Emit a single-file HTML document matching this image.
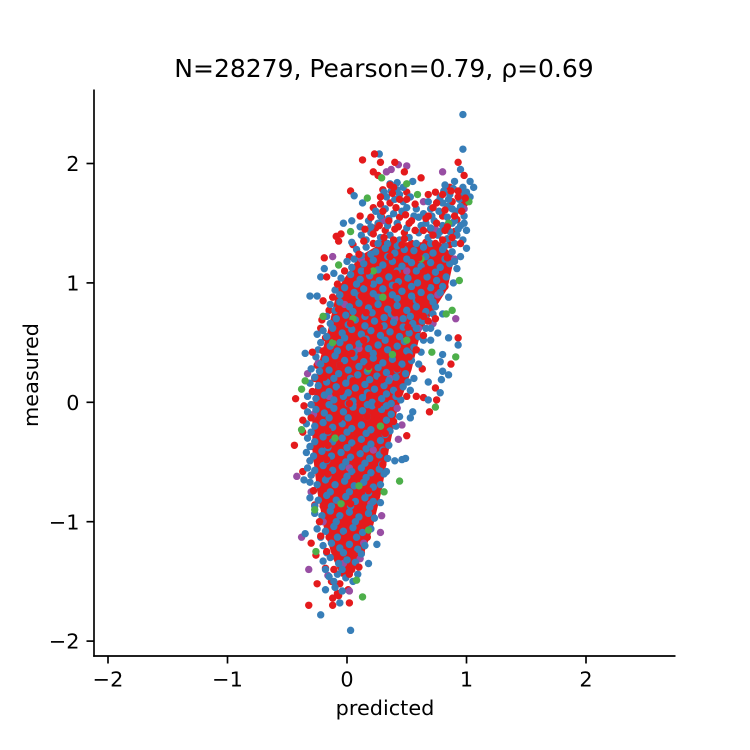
<!DOCTYPE html>
<html>
<head>
<meta charset="utf-8">
<style>
html,body{margin:0;padding:0;background:#fff}
svg{display:block}
text{font-family:"DejaVu Sans",sans-serif;fill:#000}
</style>
</head>
<body>
<svg id="chart" xmlns="http://www.w3.org/2000/svg" width="750" height="750" viewBox="0 0 750 750">
<rect width="750" height="750" fill="#fff"/>
<text x="384" y="77" font-size="25" text-anchor="middle">N=28279, Pearson=0.79, ρ=0.69</text>
<text x="385" y="715" font-size="20.8" text-anchor="middle">predicted</text>
<text x="38" y="375" font-size="20.8" text-anchor="middle" transform="rotate(-90 38 375)">measured</text>
<g id="band"></g>
<g id="points"></g>
<g id="axes"></g>
</svg>
<script>
const xTicks=[-2,-1,0,1,2];
const yTicks=[-2,-1,0,1,2];
const groupNames=['purple','green','blue','red'];
const groupColors=['#984ea3','#4daf4a','#377eb8','#e41a1c'];

/* dense overplotted core: measured level with predicted lower and upper edges */
const bandMeasured=[1.34,1.22,0.95,0.6,0.27,-0.07,-0.4,-0.74,-1.07,-1.3,-1.46];
const bandLow=[0.3,0.1,-0.08,-0.16,-0.25,-0.29,-0.29,-0.25,-0.19,-0.12,-0.05];
const bandHigh=[0.78,0.9,0.84,0.62,0.54,0.42,0.35,0.29,0.21,0.13,0.03];

const purple=[[.43,1.99],[.5,1.98],[.37,1.95],[.33,1.93],[.8,1.93],[-.12,1.22],[.64,1.68],[.91,.7],[-.33,.24],[-.42,-.62],[.43,-.31],[.46,-.19],[-.32,-1.4],[-.38,-1.13],[.28,-1.09],[.29,-.95],[.11,-1.31],[.02,-1.58],
[.98,1.62],[.74,1.45],[.3,1.52],[.12,1.2],[.5,1.1],[-.02,.82],[.4,.7],[.76,.9],[-.24,.33],[.1,.45],[.36,.2],[-.28,-.1],[.05,-.02],[.22,-.4],[-.3,-.75],[.02,-.55],[.2,-.85],[-.2,-1.0],[.14,-1.18],[-.16,-1.45],[-.03,-1.35],[.6,.62],[.9,1.2],[.72,.66],[-.15,.05],[.42,-.05]];
const green=[[.17,1.71],[.03,1.43],[.59,1.74],[.5,1.83],[.29,1.88],[-.07,1.15],[.71,.42],[.91,.38],[.74,-.04],[-.38,.11],[-.35,.18],[.44,-.66],[.31,-.75],[-.38,-.23],[.83,.74],[.88,.77],[.13,-1.63],[.08,-1.49],[.18,-1.07],
[.62,1.2],[.22,1.1],[.85,1.5],[1.02,1.68],[.3,.88],[.05,.7],[-.2,.72],[.5,.52],[.18,.28],[-.12,.5],[-.1,-.3],[.28,-.2],[-.05,-.85],[-.26,-1.25],[-.27,-.9],[.1,-.7],[.38,.4],[.94,1.02]];
const blue=[[.97,2.41],[.97,2.12],[.27,2.08],[.95,1.95],[.55,1.85],[.06,1.73],[.13,1.67],[-.03,1.5],[.04,1.52],[.11,1.47],[1.06,1.8],[1.03,1.85],[1.0,1.29],[.04,1.34],[-.19,1.12],[-.22,1.05],[-.11,1.08],[-.31,.89],[-.25,.89],[-.35,.41],[-.25,.57],[.64,.52],[.85,.54],[.93,.48],[.85,.23],[.8,.26],[.79,.19],[.68,.17],[.78,.08],[.68,.02],[.55,-.08],[.53,-.13],[.4,-.49],[.49,-.47],[.46,-.48],[.28,-.84],[.33,-.58],[-.36,-.65],[.03,-1.91],[-.22,-1.78],[-.06,-1.68],[.18,-1.35],[.25,-1.19],[.09,-1.44],[-.18,-1.57],[-.35,-1.1],
[.36,1.83],[.42,1.78],[.47,1.8],[.82,1.82],[.9,1.85],[.97,1.8],[1.0,1.76],[.78,1.72],[.86,1.74],[.94,1.7],[1.03,1.72],[.33,1.72],[.4,1.7],[.47,1.68],[.53,1.72],
[.24,1.6],[.32,1.62],[.39,1.58],[.46,1.6],[.7,1.62],[.77,1.6],[.84,1.64],[.91,1.6],[.98,1.56],[.64,1.58],[.56,1.56],[.18,1.52],[.26,1.5],[.34,1.48],[.42,1.5],[.5,1.46],[.66,1.5],[.73,1.52],[.8,1.48],[.88,1.5],[.95,1.48],[1.0,1.44],
[.12,1.4],[.2,1.42],[.28,1.38],[.36,1.4],[.44,1.36],[.52,1.38],[.6,1.42],[.68,1.38],[.76,1.4],[.84,1.37],[.92,1.4],[.97,1.36],[.08,1.28],[.16,1.3],[.24,1.26],[.32,1.29],[.4,1.25],[.48,1.28],[.56,1.27],[.64,1.3],[.72,1.25],[.8,1.28],[.88,1.26],[.95,1.22],
[.0,1.18],[.06,1.2],[.14,1.16],[.22,1.19],[.3,1.15],[.38,1.18],[.46,1.14],[.54,1.17],[.62,1.14],[.7,1.17],[.78,1.13],[.86,1.16],[.92,1.12],[-.05,1.04],[.03,1.07],[.11,1.03],[.19,1.06],[.27,1.02],[.35,1.05],[.43,1.01],[.51,1.04],[.59,1.0],[.67,1.05],[.75,1.02],[.83,1.05],[.89,1.0],
[-.1,.94],[-.02,.96],[.06,.92],[.14,.95],[.22,.91],[.3,.95],[.38,.9],[.46,.93],[.54,.89],[.62,.92],[.7,.88],[.78,.92],[.85,.88],[-.14,.82],[-.06,.84],[.02,.8],[.1,.83],[.18,.79],[.26,.82],[.34,.78],[.42,.81],[.5,.77],[.58,.8],[.66,.76],[.74,.8],[.8,.74],
[-.17,.72],[-.09,.7],[-.01,.73],[.07,.69],[.15,.72],[.23,.68],[.31,.71],[.39,.67],[.47,.7],[.55,.66],[.63,.68],[.7,.62],[-.2,.6],[-.12,.62],[-.04,.58],[.04,.61],[.12,.57],[.2,.6],[.28,.56],[.36,.59],[.44,.55],[.52,.58],[.6,.55],[.76,.58],
[-.22,.5],[-.14,.47],[-.06,.5],[.02,.46],[.1,.49],[.18,.45],[.26,.48],[.34,.44],[.42,.47],[.5,.43],[.56,.46],[.8,.4],[-.26,.38],[-.18,.36],[-.1,.39],[-.02,.35],[.06,.38],[.14,.34],[.22,.37],[.3,.33],[.38,.36],[.46,.32],[.54,.35],[.78,.34],
[-.3,.28],[-.23,.26],[-.15,.27],[-.07,.24],[.01,.27],[.09,.23],[.17,.26],[.25,.22],[.33,.25],[.41,.21],[.49,.24],[.56,.2],[-.31,.16],[-.24,.14],[-.17,.17],[-.09,.13],[-.01,.16],[.07,.12],[.15,.15],[.23,.11],[.31,.14],[.39,.1],[.47,.13],[.53,.1],
[-.33,.05],[-.26,.03],[-.19,.06],[-.11,.02],[-.03,.05],[.05,.01],[.13,.04],[.21,0],[.29,.03],[.37,-.01],[.45,.02],[-.33,-.08],[-.26,-.06],[-.19,-.09],[-.11,-.05],[-.03,-.08],[.05,-.04],[.13,-.07],[.21,-.03],[.29,-.06],[.37,-.1],[.44,-.12],
[-.34,-.18],[-.27,-.2],[-.2,-.17],[-.12,-.21],[-.04,-.18],[.04,-.22],[.12,-.19],[.2,-.23],[.28,-.2],[.36,-.24],[.41,-.2],[-.33,-.3],[-.27,-.33],[-.2,-.29],[-.12,-.33],[-.04,-.3],[.04,-.34],[.12,-.31],[.2,-.35],[.28,-.32],[.35,-.36],
[-.34,-.42],[-.28,-.45],[-.21,-.41],[-.13,-.45],[-.05,-.42],[.03,-.46],[.11,-.43],[.19,-.47],[.27,-.44],[.34,-.47],[-.33,-.55],[-.27,-.57],[-.2,-.53],[-.12,-.57],[-.04,-.54],[.04,-.58],[.12,-.55],[.2,-.59],[.27,-.56],[.31,-.6],
[-.31,-.67],[-.25,-.69],[-.18,-.65],[-.1,-.69],[-.02,-.66],[.06,-.7],[.14,-.67],[.22,-.71],[.28,-.69],[-.31,-.8],[-.24,-.82],[-.17,-.78],[-.09,-.82],[-.01,-.79],[.07,-.83],[.15,-.8],[.22,-.83],
[-.27,-.93],[-.21,-.95],[-.14,-.91],[-.06,-.95],[.02,-.92],[.1,-.96],[.18,-.93],[.23,-.97],[-.25,-1.06],[-.18,-1.08],[-.11,-1.04],[-.03,-1.08],[.05,-1.05],[.13,-1.09],[.2,-1.06],
[-.2,-1.2],[-.13,-1.18],[-.06,-1.22],[.02,-1.19],[.09,-1.23],[.15,-1.2],[-.2,-1.33],[-.14,-1.3],[-.07,-1.35],[0,-1.32],[.07,-1.34],[-.15,-1.46],[-.08,-1.44],[-.01,-1.47],[.05,-1.5],[-.1,-1.55],[-.04,-1.58]];
const blueClumps=[[.37,1.77],[.44,1.74],[.5,1.63],[.58,1.62],[.28,1.56],[.35,1.54],[.81,1.77],[.89,1.79],[.95,1.75],[.8,1.67],[.88,1.62],[.95,1.64],[.71,1.56],[.84,1.55],[.93,1.45],[.62,1.48],[.7,1.46],[.78,1.43],
[.16,1.36],[.26,1.33],[.34,1.33],[.42,1.31],[.58,1.33],[.7,1.33],[.82,1.31],[.9,1.33],[.12,1.23],[.2,1.24],[.34,1.22],[.5,1.2],[.66,1.22],[.82,1.2],[.9,1.18],
[.04,1.13],[.12,1.1],[.26,1.11],[.42,1.1],[.58,1.1],[.74,1.09],[.08,.99],[.22,.99],[.38,.98],[.54,.97],[.7,.96],[.8,.97],[-.06,.9],[.1,.89],[.26,.88],[.42,.87],[.58,.85],[.72,.84],
[-.1,.77],[.05,.76],[.21,.75],[.37,.74],[.53,.72],[.66,.7],[-.14,.66],[.01,.65],[.15,.64],[.31,.64],[.47,.63],[.58,.62],[-.17,.55],[-.02,.54],[.16,.53],[.32,.52],[.48,.51],
[-.24,.44],[-.08,.43],[.06,.42],[.22,.41],[.38,.4],[.52,.41],[-.22,.32],[-.06,.31],[.1,.3],[.26,.29],[.42,.27],[-.27,.21],[-.11,.2],[.03,.2],[.19,.19],[.35,.18],[.51,.17],
[-.29,.09],[-.15,.09],[.01,.08],[.17,.08],[.33,.07],[.41,.05],[-.3,-.02],[-.15,-.02],[.01,-.01],[.17,-.02],[.33,-.03],[-.3,-.13],[-.15,-.13],[.01,-.13],[.17,-.12],[.33,-.15],
[-.3,-.25],[-.16,-.25],[0,-.25],[.16,-.26],[.32,-.27],[-.31,-.37],[-.16,-.38],[0,-.38],[.16,-.39],[.3,-.4],[-.31,-.49],[-.17,-.49],[-.01,-.5],[.15,-.51],[.29,-.52],
[-.3,-.61],[-.16,-.62],[0,-.62],[.16,-.63],[-.28,-.74],[-.14,-.75],[.02,-.75],[.18,-.76],[-.27,-.87],[-.13,-.87],[.03,-.87],[.19,-.88],[-.23,-1.0],[-.09,-1.0],[.07,-1.0],
[-.22,-1.13],[-.08,-1.13],[.08,-1.13],[-.17,-1.26],[-.03,-1.26],[.12,-1.27],[-.18,-1.4],[-.04,-1.4],[-.11,-1.5],
[.42,1.84],[.31,1.76],[.85,1.7],[.76,1.68],[.68,1.68],[.6,1.55],[.9,1.52],[.98,1.5],[.2,1.47],[.86,1.43],[.72,.74],[.66,.62],[.7,.52],[.62,.42],[.6,.32]];
const red=[[.23,2.08],[.13,2.03],[.28,2.01],[.4,2.01],[.22,1.93],[.26,1.9],[.48,1.93],[.62,1.88],[.93,2.01],[.98,1.9],[.03,1.77],[.22,1.63],[.57,1.66],[-.09,1.39],[-.05,1.41],[-.07,1.35],[.11,1.56],[-.19,1.21],[-.17,1.05],[-.2,.85],[.93,.54],[.87,.32],[.63,.28],[.74,.12],[.58,.05],[.64,.04],[.75,.02],[.69,-.08],[.5,-.28],[-.43,.03],[-.44,-.36],[-.37,-.58],[-.36,-.03],[-.37,-.15],[-.37,-.25],[-.22,.62],[-.29,.42],[-.21,.69],[-.32,-1.7],[-.12,-1.7],[.02,-1.68],[-.07,-1.62],[-.12,-1.64],[-.3,-1.18],[-.26,-1.28],[-.25,-1.52],[.01,-1.57],
[.3,1.78],[.38,1.75],[.5,1.76],[.86,1.8],[.93,1.77],[.28,1.66],[.36,1.67],[.75,1.67],[.88,1.68],[.98,1.66],[.2,1.55],[.29,1.55],[.44,1.55],[.68,1.56],[.8,1.56],[.92,1.53],[.15,1.45],[.24,1.46],[.32,1.44],[.4,1.45],[.48,1.42],[.7,1.44],[.82,1.44],[.9,1.43],
[.05,1.32],[.14,1.35],[.22,1.33],[.3,1.34],[.46,1.32],[.54,1.33],[.66,1.34],[.74,1.33],[.86,1.32],[.02,1.22],[.1,1.24],[.18,1.22],[.28,1.23],[.36,1.22],[.44,1.2],[.52,1.22],[.6,1.21],[.68,1.22],[.76,1.2],[.84,1.21],
[-.02,1.1],[.08,1.12],[.17,1.1],[.25,1.1],[.33,1.1],[.41,1.08],[.49,1.09],[.57,1.08],[.65,1.1],[.73,1.08],[.81,1.09],[-.08,.99],[.01,1.0],[.09,.98],[.17,1.0],[.24,.97],[.33,.99],[.41,.97],[.49,.98],[.57,.95],[.65,.98],[.73,.96],[.82,.97],
[-.12,.88],[-.04,.9],[.04,.87],[.12,.89],[.2,.86],[.28,.88],[.36,.84],[.44,.87],[.52,.84],[.6,.86],[.68,.82],[-.15,.77],[-.07,.78],[.0,.76],[.08,.77],[.16,.75],[.24,.76],[.32,.74],[.4,.75],[.48,.73],[.56,.74],[.64,.72],
[-.13,.66],[-.05,.65],[.03,.66],[.11,.64],[.19,.66],[.27,.63],[.35,.64],[.43,.62],[.51,.63],[.59,.6],[-.18,.54],[-.1,.55],[-.02,.53],[.06,.54],[.14,.52],[.22,.54],[.3,.51],[.38,.52],[.46,.5],[.54,.52],
[-.2,.43],[-.12,.42],[-.04,.43],[.04,.41],[.12,.42],[.2,.4],[.28,.42],[.36,.39],[.44,.4],[.52,.38],[-.25,.31],[-.16,.31],[-.06,.31],[.02,.3],[.1,.31],[.18,.3],[.26,.3],[.34,.29],[.42,.28],[.5,.29],
[-.27,.2],[-.19,.21],[-.11,.19],[-.03,.2],[.05,.18],[.13,.2],[.21,.17],[.29,.19],[.37,.17],[.45,.18],[-.29,.09],[-.21,.1],[-.13,.08],[-.05,.09],[.03,.07],[.11,.09],[.19,.06],[.27,.08],[.35,.05],[.43,.07],[.5,.05],
[-.3,-.02],[-.22,-.01],[-.14,-.02],[-.06,0],[.02,-.01],[.1,-.02],[.18,-.01],[.26,-.02],[.34,-.04],[.41,-.03],[-.3,-.13],[-.22,-.13],[-.15,-.12],[-.07,-.14],[.01,-.12],[.09,-.14],[.17,-.12],[.25,-.15],[.33,-.14],[.39,-.16],
[-.3,-.25],[-.23,-.25],[-.16,-.24],[-.08,-.26],[0,-.25],[.08,-.26],[.16,-.24],[.24,-.27],[.32,-.26],[-.3,-.37],[-.23,-.38],[-.16,-.36],[-.08,-.38],[0,-.37],[.08,-.38],[.16,-.36],[.24,-.39],[.31,-.41],
[-.31,-.49],[-.24,-.5],[-.17,-.48],[-.09,-.5],[-.01,-.48],[.07,-.5],[.15,-.49],[.23,-.51],[.3,-.52],[-.3,-.61],[-.23,-.62],[-.16,-.6],[-.08,-.62],[0,-.6],[.08,-.62],[.16,-.61],[.24,-.63],
[-.28,-.74],[-.21,-.75],[-.14,-.73],[-.06,-.75],[.02,-.73],[.1,-.75],[.18,-.74],[.25,-.77],[-.27,-.86],[-.2,-.87],[-.13,-.85],[-.05,-.87],[.03,-.85],[.11,-.88],[.19,-.87],[-.23,-1.0],[-.16,-.99],[-.09,-1.0],[-.01,-.98],[.07,-1.0],[.15,-.99],
[-.22,-1.12],[-.15,-1.13],[-.08,-1.12],[0,-1.13],[.08,-1.12],[.17,-1.13],[-.17,-1.25],[-.1,-1.26],[-.03,-1.25],[.05,-1.27],[.12,-1.26],[-.18,-1.39],[-.11,-1.4],[-.04,-1.39],[.04,-1.4],[.1,-1.38],[-.13,-1.5],[-.06,-1.52],[.02,-1.44],[-.08,-1.6]];
const redClumps=[[.27,1.48],[.35,1.52],[.43,1.47],[.52,1.5],[.22,1.41],[.31,1.38],[.39,1.36],[.48,1.37],[.57,1.44],[.64,1.44],[.72,1.4],[.8,1.36],[.88,1.38],[.95,1.33],[.3,1.6],[.41,1.63],[.49,1.57],[.54,1.52],
[.68,1.74],[.74,1.76],[.8,1.74],[.87,1.77],[.93,1.72],[.99,1.71],[.72,1.63],[.82,1.61],[.9,1.56],[.96,1.6],[.66,1.54],[.75,1.5],[.84,1.47],[.36,1.82],[.44,1.7],[.5,1.7],[.28,1.72],[.39,1.8],[.68,.68],[.74,.7],[.64,.56],[.58,.44]];
const groups=[purple,green,blue,red,blueClumps,redClumps];

const NS='http://www.w3.org/2000/svg';
function xScale(v){return 347+119.5*v;}
function yScale(v){return 402.3-119.4*v;}

const bandPts=[];
bandMeasured.forEach(function(m,i){bandPts.push(xScale(bandLow[i])+','+yScale(m));});
for(let i=bandMeasured.length-1;i>=0;i--){bandPts.push(xScale(bandHigh[i])+','+yScale(bandMeasured[i]));}
const poly=document.createElementNS(NS,'polygon');


poly.setAttribute('points',bandPts.join(' '));
poly.setAttribute('fill',groupColors[3]);
document.getElementById('band').appendChild(poly);

const colorIndexFor=[0,1,2,3,2,3];
const pointLayer=document.getElementById('points');
function drawPoint(g,i){
  const p=groups[g][i];
  const colorIndex=colorIndexFor[g];
  const c=document.createElementNS(NS,'circle');
  
  
  c.setAttribute('cx',xScale(p[0]));
  c.setAttribute('cy',yScale(p[1]));
  c.setAttribute('r',3.7);
  c.setAttribute('fill',groupColors[colorIndex]);
  pointLayer.appendChild(c);
}
red.forEach(function(p,i){if(i%3!==0)drawPoint(3,i);});
purple.forEach(function(p,i){drawPoint(0,i);});
blue.forEach(function(p,i){drawPoint(2,i);});
blueClumps.forEach(function(p,i){drawPoint(4,i);});
green.forEach(function(p,i){drawPoint(1,i);});
red.forEach(function(p,i){if(i%3===0)drawPoint(3,i);});
redClumps.forEach(function(p,i){drawPoint(5,i);});

const axes=document.getElementById('axes');
function addLine(name,x1,y1,x2,y2){
  const l=document.createElementNS(NS,'line');
  
  
  l.setAttribute('x1',x1);l.setAttribute('y1',y1);l.setAttribute('x2',x2);l.setAttribute('y2',y2);
  l.setAttribute('stroke','#000');
  l.setAttribute('stroke-width',1.67);
  axes.appendChild(l);
}
function addLabel(name,x,y,anchor,str){
  const t=document.createElementNS(NS,'text');
  
  
  t.setAttribute('x',x);t.setAttribute('y',y);
  t.setAttribute('font-size',20.8);
  t.setAttribute('text-anchor',anchor);
  t.textContent=str;
  axes.appendChild(t);
}
function fmt(v){return v<0?'\u2212'+Math.abs(v):String(v);}
addLine('y-axis-spine',94,89.5,94,656.8);
addLine('x-axis-spine',93.2,656,675.5,656);
xTicks.forEach(function(v){
  addLine('x-tick-mark',xScale(v),656,xScale(v),663.5);
  addLabel('x-tick-label',xScale(v),686.5,'middle',fmt(v));
});
yTicks.forEach(function(v){
  addLine('y-tick-mark',86.5,yScale(v),94,yScale(v));
  addLabel('y-tick-label',79.5,yScale(v)+7.6,'end',fmt(v));
});
</script>
</body>
</html>
